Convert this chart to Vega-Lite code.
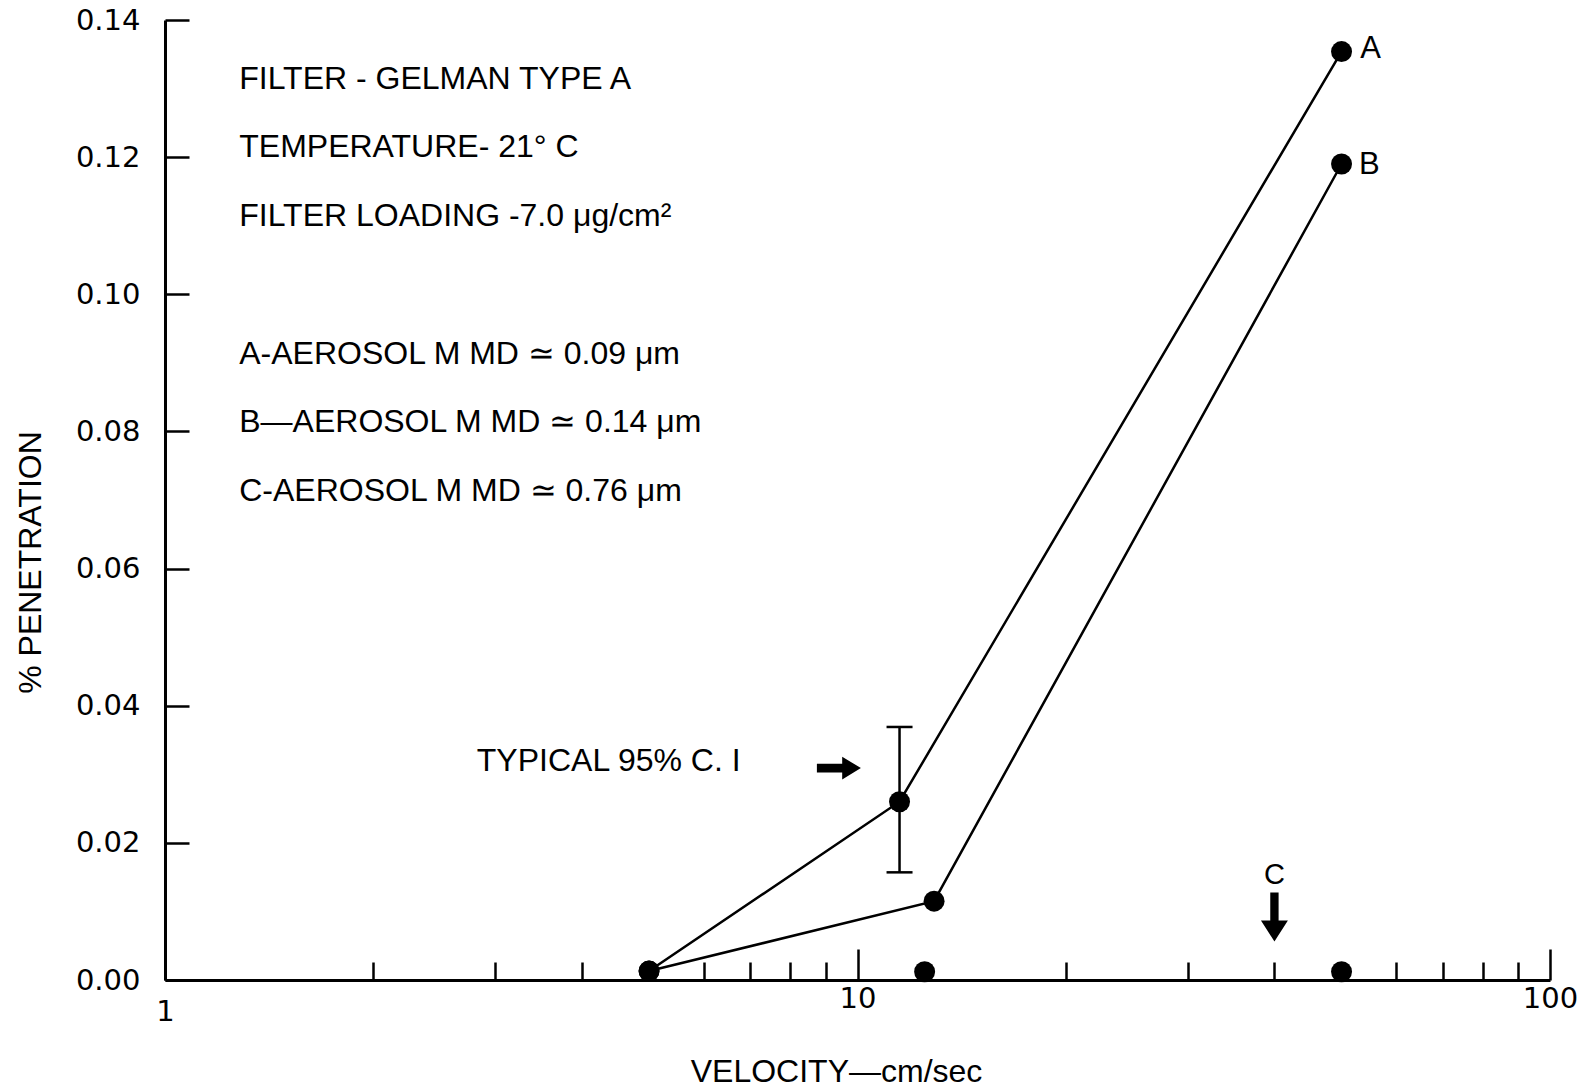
{
  "$schema": "https://vega.github.io/schema/vega-lite/v6.json",
  "width": 1385,
  "height": 960,
  "autosize": {"type": "none"},
  "padding": {"left": 165, "top": 20, "right": 42, "bottom": 111},
  "background": "white",
  "config": {
    "view": {"stroke": null},
    "font": "Liberation Sans",
    "axis": {
      "domainColor": "black",
      "domainWidth": 3,
      "tickColor": "black",
      "tickWidth": 2.5,
      "labelColor": "black",
      "labelFont": "DejaVu Sans",
      "labelFontSize": 29,
      "titleColor": "black",
      "titleFont": "Liberation Sans",
      "titleFontSize": 32,
      "titleFontWeight": "normal",
      "grid": false
    }
  },
  "datasets": {
    "series": [
      {"series": "A", "velocity": 5, "penetration": 0.0013},
      {"series": "A", "velocity": 11.5, "penetration": 0.026},
      {"series": "A", "velocity": 50, "penetration": 0.1354},
      {"series": "B", "velocity": 5, "penetration": 0.0013},
      {"series": "B", "velocity": 12.9, "penetration": 0.0115},
      {"series": "B", "velocity": 50, "penetration": 0.119},
      {"series": "C", "velocity": 12.5, "penetration": 0.0012},
      {"series": "C", "velocity": 50, "penetration": 0.0012}
    ],
    "ci": [
      {"velocity": 11.5, "low": 0.0157, "high": 0.0369}
    ],
    "notes": [
      {"velocity": 1.28, "penetration": 0.1314, "text": "FILTER - GELMAN TYPE A"},
      {"velocity": 1.28, "penetration": 0.1215, "text": "TEMPERATURE- 21° C"},
      {"velocity": 1.28, "penetration": 0.1114, "text": "FILTER LOADING -7.0 μg/cm²"},
      {"velocity": 1.28, "penetration": 0.0913, "text": "A-AEROSOL  M MD ≃ 0.09 μm"},
      {"velocity": 1.28, "penetration": 0.0814, "text": "B—AEROSOL  M MD ≃ 0.14 μm"},
      {"velocity": 1.28, "penetration": 0.0713, "text": "C-AEROSOL  M MD ≃ 0.76 μm"},
      {"velocity": 2.82, "penetration": 0.0319, "text": "TYPICAL 95% C. I"}
    ],
    "seriesLabels": [
      {"velocity": 53.2, "penetration": 0.1358, "text": "A"},
      {"velocity": 53.0, "penetration": 0.1189, "text": "B"}
    ],
    "cLabel": [
      {"velocity": 40, "penetration": 0.0153, "text": "C"}
    ],
    "arrowRight": [
      {"velocity": 9.4, "penetration": 0.0309}
    ],
    "arrowDown": [
      {"velocity": 40, "penetration": 0.0092}
    ]
  },
  "layer": [
    {
      "data": {"name": "series"},
      "transform": [{"filter": "datum.series != 'C'"}],
      "mark": {"type": "line", "color": "black", "strokeWidth": 2.5},
      "encoding": {
        "x": {
          "field": "velocity",
          "type": "quantitative",
          "title": "VELOCITY—cm/sec",
          "scale": {"type": "log", "domain": [1, 100], "nice": false},
          "axis": {
            "titleX": 671,
            "titleY": 91,
            "titleBaseline": "middle",
            "values": [1, 2, 3, 4, 5, 6, 7, 8, 9, 10, 20, 30, 40, 50, 60, 70, 80, 90, 100],
            "labelExpr": "datum.value == 1 || datum.value == 10 || datum.value == 100 ? datum.label : ''",
            "format": "d",
            "tickSize": {"condition": {"test": "datum.value == 10 || datum.value == 100", "value": -31}, "value": -18},
            "labelPadding": 35,
            "labelOverlap": false,
            "labelFlush": false
          }
        },
        "y": {
          "field": "penetration",
          "type": "quantitative",
          "title": "% PENETRATION",
          "scale": {"domain": [0, 0.14], "nice": false},
          "axis": {
            "titleX": -135,
            "titleY": 542,
            "titleBaseline": "middle",
            "values": [0, 0.02, 0.04, 0.06, 0.08, 0.1, 0.12, 0.14],
            "format": ".2f",
            "tickSize": -24,
            "labelPadding": 49,
            "labelFlush": false,
            "labelOverlap": false
          }
        },
        "detail": {"field": "series"}
      }
    },
    {
      "data": {"name": "series"},
      "mark": {"type": "point", "filled": true, "color": "black", "opacity": 1, "size": 440},
      "encoding": {
        "x": {"field": "velocity", "type": "quantitative", "title": "VELOCITY—cm/sec"},
        "y": {"field": "penetration", "type": "quantitative", "title": "% PENETRATION"}
      }
    },
    {
      "data": {"name": "ci"},
      "mark": {
        "type": "errorbar",
        "color": "black",
        "rule": {"color": "black", "strokeWidth": 2.5, "opacity": 1},
        "ticks": {"size": 26, "thickness": 2.5, "color": "black", "opacity": 1}
      },
      "encoding": {
        "x": {"field": "velocity", "type": "quantitative", "title": "VELOCITY—cm/sec"},
        "y": {"field": "low", "type": "quantitative", "title": "% PENETRATION"},
        "y2": {"field": "high"}
      }
    },
    {
      "data": {"name": "notes"},
      "mark": {"type": "text", "align": "left", "baseline": "middle", "fontSize": 32, "color": "black", "font": "Liberation Sans"},
      "encoding": {
        "x": {"field": "velocity", "type": "quantitative"},
        "y": {"field": "penetration", "type": "quantitative"},
        "text": {"field": "text"}
      }
    },
    {
      "data": {"name": "seriesLabels"},
      "mark": {"type": "text", "align": "left", "baseline": "middle", "fontSize": 31, "color": "black", "font": "Liberation Sans"},
      "encoding": {
        "x": {"field": "velocity", "type": "quantitative"},
        "y": {"field": "penetration", "type": "quantitative"},
        "text": {"field": "text"}
      }
    },
    {
      "data": {"name": "cLabel"},
      "mark": {"type": "text", "align": "center", "baseline": "middle", "fontSize": 29, "color": "black", "font": "Liberation Sans"},
      "encoding": {
        "x": {"field": "velocity", "type": "quantitative"},
        "y": {"field": "penetration", "type": "quantitative"},
        "text": {"field": "text"}
      }
    },
    {
      "data": {"name": "arrowRight"},
      "mark": {
        "type": "point", "filled": true, "color": "black", "opacity": 1, "size": 1936,
        "shape": "M-1,-0.2 L0.15,-0.2 L0.15,-0.52 L1,0 L0.15,0.52 L0.15,0.2 L-1,0.2 Z"
      },
      "encoding": {
        "x": {"field": "velocity", "type": "quantitative"},
        "y": {"field": "penetration", "type": "quantitative"}
      }
    },
    {
      "data": {"name": "arrowDown"},
      "mark": {
        "type": "point", "filled": true, "color": "black", "opacity": 1, "size": 2400,
        "shape": "M-0.17,-1 L0.17,-1 L0.17,0.15 L0.55,0.15 L0,1 L-0.55,0.15 L-0.17,0.15 Z"
      },
      "encoding": {
        "x": {"field": "velocity", "type": "quantitative"},
        "y": {"field": "penetration", "type": "quantitative"}
      }
    }
  ]
}
